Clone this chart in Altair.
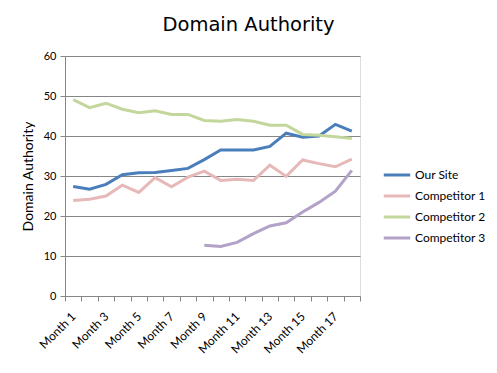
import altair as alt
import pandas as pd

months = [f"Month {i}" for i in range(1, 19)]
series_names = ["Our Site", "Competitor 1", "Competitor 2", "Competitor 3"]
our_site = [27.4, 26.7, 27.9, 30.3, 30.8, 30.9, 31.4, 31.9, 34.1, 36.5, 36.5, 36.5, 37.4, 40.7, 39.7, 40.0, 42.9, 41.2]
competitor_1 = [23.9, 24.2, 25.0, 27.7, 25.9, 29.6, 27.3, 29.7, 31.2, 28.9, 29.2, 28.9, 32.7, 29.9, 34.0, 33.1, 32.3, 34.2]
competitor_2 = [49.1, 47.1, 48.2, 46.7, 45.8, 46.3, 45.4, 45.4, 43.9, 43.7, 44.1, 43.7, 42.7, 42.7, 40.4, 40.2, 39.8, 39.4]
competitor_3 = [None] * 8 + [12.7, 12.4, 13.4, 15.6, 17.5, 18.3, 21.0, 23.4, 26.2, 31.4]
colors = ["#4A7EBB", "#E6B9B8", "#C3D69B", "#B3A2C7"]
y_ticks = [0, 10, 20, 30, 40, 50, 60]

rows = []
for name, vals in zip(series_names, [our_site, competitor_1, competitor_2, competitor_3]):
    for m, v in zip(months, vals):
        if v is not None:
            rows.append({"month": m, "series": name, "value": v})
df = pd.DataFrame(rows)

FONT = "Lato"
GRAY = "#868686"

chart = alt.Chart(df).mark_line(strokeWidth=3).encode(
    x=alt.X(
        "month:N",
        sort=months,
        bandPosition=0.5,
        scale=alt.Scale(type="band", domain=months, paddingInner=0, paddingOuter=0),
        axis=alt.Axis(
            title=None,
            grid=False,
            tickBand="extent",
            labelAngle=-45,
            labelAlign="right",
            labelBaseline="middle",
            labelOverlap=False,
            labelExpr="toNumber(replace(datum.value, 'Month ', '')) % 2 == 1 ? datum.value : ''",
            labelFont=FONT,
            labelFontSize=12,
            labelColor="black",
            labelPadding=13,
            domainColor=GRAY,
            tickColor=GRAY,
            tickSize=5,
        ),
    ),
    y=alt.Y(
        "value:Q",
        scale=alt.Scale(domain=[0, 60]),
        axis=alt.Axis(
            values=y_ticks,
            title="Domain Authority",
            titleFont=FONT,
            titleFontSize=14,
            titleFontWeight="normal",
            titleColor="black",
            titlePadding=8,
            grid=True,
            gridColor=GRAY,
            domainColor=GRAY,
            tickColor=GRAY,
            tickSize=5,
            labelFont=FONT,
            labelFontSize=11,
            labelColor="black",
            labelPadding=4,
        ),
    ),
    color=alt.Color(
        "series:N",
        scale=alt.Scale(domain=series_names, range=colors),
        sort=series_names,
        legend=alt.Legend(
            title=None,
            orient="none",
            legendX=317,
            legendY=104,
            symbolType="stroke",
            symbolStrokeWidth=3,
            symbolSize=700,
            labelFont=FONT,
            labelFontSize=12,
            labelColor="black",
            labelOffset=3,
            rowPadding=0,
            padding=0,
        ),
    ),
).properties(
    width=295,
    height=240,
    autosize=alt.AutoSizeParams(type="none"),
    padding={"left": 57, "top": 48, "right": 129, "bottom": 69},
    title=alt.TitleParams(
        "Domain Authority",
        font="DejaVu Sans",
        fontSize=19.5,
        fontWeight="normal",
        color="black",
        anchor="middle",
        dx=36,
        offset=15,
    ),
).configure_view(stroke=None).configure(background="white")

chart.save("out.html", embed_options={"renderer": "svg", "actions": False})
